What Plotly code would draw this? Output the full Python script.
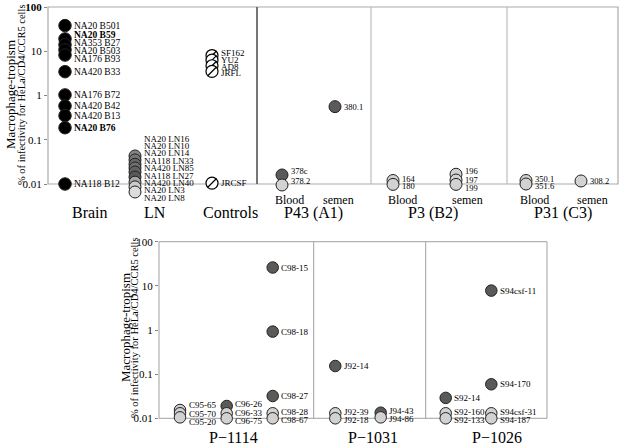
import math
import plotly.graph_objects as go

# ---------------- data ----------------
brain_labels = ["NA20 B501", "NA20 B59", "NA353 B27", "NA20 B503", "NA176 B93",
                "NA420 B33", "NA176 B72", "NA420 B42", "NA420 B13", "NA20 B76", "NA118 B12"]
brain_values = [38, 19, 14, 10.7, 8.2, 3.45, 1.03, 0.58, 0.35, 0.187, 0.01]

ln_labels = ["NA20 LN16", "NA20 LN10", "NA20 LN14", "NA118 LN33", "NA420 LN85",
             "NA118 LN27", "NA420 LN40", "NA20 LN3", "NA20 LN8"]
ln_values = [0.043, 0.035, 0.028, 0.023, 0.0187, 0.0144, 0.011, 0.0086, 0.0066]

control_labels = ["SF162", "YU2", "AD8", "JRFL", "JRCSF"]
control_values = [8.0, 6.3, 4.7, 3.5, 0.0105]

p43_blood_labels = ["378c", "378.2"]
p43_blood_values = [0.016, 0.0095]
p43_semen_labels = ["380.1"]
p43_semen_values = [0.56]
p3_blood_labels = ["164", "180"]
p3_blood_values = [0.012, 0.0098]
p3_semen_labels = ["196", "197", "199"]
p3_semen_values = [0.0166, 0.0123, 0.0098]
p31_blood_labels = ["350.1", "351.6"]
p31_blood_values = [0.012, 0.0100]
p31_semen_labels = ["308.2"]
p31_semen_values = [0.0117]

c95_labels = ["C95-65", "C95-70", "C95-20"]
c95_values = [0.0154, 0.013, 0.0105]
c96_labels = ["C96-26", "C96-33", "C96-75"]
c96_values = [0.019, 0.013, 0.0100]
c98_labels = ["C98-15", "C98-18", "C98-27", "C98-28", "C98-67"]
c98_values = [26, 0.92, 0.032, 0.013, 0.0100]
j92_labels = ["J92-14", "J92-39", "J92-18"]
j92_values = [0.153, 0.013, 0.0100]
j94_labels = ["J94-43", "J94-86"]
j94_values = [0.0134, 0.0105]
s92_labels = ["S92-14", "S92-160", "S92-133"]
s92_values = [0.029, 0.013, 0.0100]
s94_labels = ["S94csf-11", "S94-170", "S94csf-31", "S94-187"]
s94_values = [7.8, 0.059, 0.013, 0.0100]

top_categories = ["Brain", "LN", "Controls", "P43 (A1)", "P3 (B2)", "P31 (C3)"]
bottom_categories = ["P\u22121114", "P\u22121031", "P\u22121026"]
tick_values = [0.01, 0.1, 1, 10, 100]
tick_text_top = ["0.01", "0.1", "1", "10", "<b>100</b>"]
tick_text_bottom = ["0.01", "0.1", "1", "10", "100"]

# ---------------- styles ----------------
BLACK = "#000000"
DARK = "#5a5a5a"
LIGHT = "#d2d2d2"
ln_shades = ["#858585", "#767676", "#676767", "#707070", "#626262",
             "#585858", "#a5a5a5", "#cacaca", "#dcdcdc"]
FONT = "Liberation Serif"
W, H = 624, 446
LO = -2.35  # axis range extends a little below the 0.01 frame line

# panel geometry in pixels (y0 = level of 100, y1 = level of 0.01)
TOP = dict(x0=48, x1=618, y0=7, y1=184)
BOT = dict(x0=159, x1=547, y0=241.7, y1=418.3)


def per_dec(g):
    return (g["y1"] - g["y0"]) / 4


def dom_x(g):
    return [g["x0"] / W, g["x1"] / W]


def dom_y(g):
    bottom = g["y1"] + (-2 - LO) * per_dec(g)
    return [1 - bottom / H, 1 - g["y0"] / H]


def py(v, g):
    return g["y1"] - (math.log10(v) + 2) * per_dec(g)


def spread(pxs, spacing):
    clusters = [[i] for i in range(len(pxs))]

    def center(c):
        return sum(pxs[i] for i in c) / len(c)

    changed = True
    while changed:
        changed = False
        for k in range(len(clusters) - 1):
            A, B = clusters[k], clusters[k + 1]
            a_bot = center(A) + (len(A) - 1) / 2 * spacing
            b_top = center(B) - (len(B) - 1) / 2 * spacing
            if b_top - a_bot < spacing - 1e-9:
                clusters[k:k + 2] = [A + B]
                changed = True
                break
    out = [0] * len(pxs)
    for c in clusters:
        m = center(c)
        for j, i in enumerate(c):
            out[i] = m + (j - (len(c) - 1) / 2) * spacing
    return out


fig = go.Figure()
annotations = []


def add_group(xa, ya, g, xpos, labels, values, fills, size, spacing,
              fsize=9, bold=(), hatched=False, label_dy=0):
    xs = [xpos] * len(values)
    if hatched:
        for i, v in enumerate(values):
            fig.add_trace(go.Scatter(x=[xpos], y=[v], mode="markers", xaxis=xa, yaxis=ya,
                                     cliponaxis=False, hoverinfo="skip",
                                     marker=dict(symbol="circle", size=size, color="white",
                                                 line=dict(color=BLACK, width=1.2))))
            fig.add_trace(go.Scatter(x=[xpos], y=[v], mode="markers", xaxis=xa, yaxis=ya,
                                     cliponaxis=False, hoverinfo="skip",
                                     marker=dict(symbol="line-ne", size=size - 3,
                                                 line=dict(color=BLACK, width=1.3))))
    else:
        fig.add_trace(go.Scatter(x=xs, y=values, mode="markers", xaxis=xa, yaxis=ya,
                                 cliponaxis=False, text=labels,
                                 marker=dict(symbol="circle", size=size, color=fills,
                                             line=dict(color="#222222", width=1))))
    pxs = [py(v, g) for v in values]
    lab = spread(pxs, spacing)
    for t, v, p, lp in zip(labels, values, pxs, lab):
        txt = "<b>%s</b>" % t if t in bold else t
        annotations.append(dict(x=xpos, y=math.log10(v), xref=xa, yref=ya, text=txt,
                                showarrow=False, xanchor="left", yanchor="middle",
                                xshift=size / 2 + 1, yshift=p - (lp + label_dy),
                                font=dict(family=FONT, size=fsize, color=BLACK)))


# ---- top panel groups (x in pixel units from axis start) ----
add_group("x", "y", TOP, 17, brain_labels, brain_values, [BLACK] * len(brain_values), 12.5, 8,
          fsize=9.5, bold=("NA20 B59", "NA20 B76"))
add_group("x", "y", TOP, 87, ln_labels, ln_values, ln_shades, 12, 7.4, fsize=9, label_dy=-5)
add_group("x", "y", TOP, 164, control_labels, control_values, None, 12, 6.8, fsize=9,
          hatched=True)
add_group("x", "y", TOP, 234, p43_blood_labels, p43_blood_values, [DARK, LIGHT], 12, 7.5,
          fsize=8.5, label_dy=-4)
add_group("x", "y", TOP, 287, p43_semen_labels, p43_semen_values, [DARK], 12, 7.5, fsize=8.5)
add_group("x", "y", TOP, 345, p3_blood_labels, p3_blood_values, [LIGHT] * 2, 12, 7, fsize=8.5)
add_group("x", "y", TOP, 408, p3_semen_labels, p3_semen_values, [LIGHT] * 3, 12, 8.5, fsize=8.5)
add_group("x", "y", TOP, 478, p31_blood_labels, p31_blood_values, [LIGHT] * 2, 12, 7, fsize=8.5)
add_group("x", "y", TOP, 533, p31_semen_labels, p31_semen_values, [LIGHT], 12, 7, fsize=8.5)

# ---- bottom panel groups ----
add_group("x2", "y2", BOT, 21, c95_labels, c95_values, [LIGHT] * 3, 11.5, 8.2)
add_group("x2", "y2", BOT, 67.7, c96_labels, c96_values, [DARK, LIGHT, LIGHT], 11.5, 8.2)
add_group("x2", "y2", BOT, 113.7, c98_labels, c98_values, [DARK, DARK, DARK, LIGHT, LIGHT], 11.5, 8.2)
add_group("x2", "y2", BOT, 176.3, j92_labels, j92_values, [DARK, LIGHT, LIGHT], 11.5, 8.2)
add_group("x2", "y2", BOT, 221.7, j94_labels, j94_values, [DARK, LIGHT], 11.5, 8.2)
add_group("x2", "y2", BOT, 286.7, s92_labels, s92_values, [DARK, LIGHT, LIGHT], 11.5, 8.2)
add_group("x2", "y2", BOT, 332.3, s94_labels, s94_values, [DARK, DARK, LIGHT, LIGHT], 11.5, 8.2)

# ---- category labels ----
top_cat_x = [42, 107, 182, 265, 385, 515]
for t, x in zip(top_categories, top_cat_x):
    annotations.append(dict(x=x, xref="x", y=1 - 213 / H, yref="paper", text=t, showarrow=False,
                            xanchor="center", yanchor="middle",
                            font=dict(family=FONT, size=16, color=BLACK)))
sub_x = [241, 290, 354, 419, 486, 544]
sub_t = ["Blood", "semen"] * 3
for t, x in zip(sub_t, sub_x):
    annotations.append(dict(x=x, xref="x", y=1 - 200 / H, yref="paper", text=t, showarrow=False,
                            xanchor="center", yanchor="middle",
                            font=dict(family=FONT, size=12, color=BLACK)))
bot_cat_x = [74, 214, 338]
for t, x in zip(bottom_categories, bot_cat_x):
    annotations.append(dict(x=x, xref="x2", y=1 - 437 / H, yref="paper", text=t, showarrow=False,
                            xanchor="center", yanchor="middle",
                            font=dict(family=FONT, size=16, color=BLACK)))

# ---- y-axis titles ----
for (x1, x2, yc) in [(10, 21, 95), (125, 134, 328)]:
    annotations.append(dict(x=x1 / W, y=1 - yc / H, xref="paper", yref="paper",
                            text="Macrophage-tropism", textangle=-90, showarrow=False,
                            xanchor="center", yanchor="middle",
                            font=dict(family=FONT, size=13, color=BLACK)))
    annotations.append(dict(x=x2 / W, y=1 - yc / H, xref="paper", yref="paper",
                            text="% of infectivity for HeLa/CD4/CCR5 cells", textangle=-90,
                            xanchor="center", yanchor="middle",
                            showarrow=False, font=dict(family=FONT, size=10.5, color=BLACK)))

# ---- frames (top of frame at 100, bottom at 0.01) and dividers ----
shapes = []
for g, col, w in [(TOP, "#aaaaaa", 1.2), (BOT, "#a0a0a0", 1)]:
    shapes.append(dict(type="rect", xref="paper", yref="paper", layer="below",
                       x0=g["x0"] / W, x1=g["x1"] / W, y0=1 - g["y1"] / H, y1=1 - g["y0"] / H,
                       line=dict(color=col, width=w), fillcolor="rgba(0,0,0,0)"))
for x, col, w in [(209, "#555555", 1.6), (323, "#bdbdbd", 1.2), (459, "#bdbdbd", 1.2)]:
    shapes.append(dict(type="line", xref="x", yref="paper", x0=x, x1=x, layer="below",
                       y0=1 - TOP["y1"] / H, y1=1 - TOP["y0"] / H, line=dict(color=col, width=w)))
for x in [154.7, 266.7]:
    shapes.append(dict(type="line", xref="x2", yref="paper", x0=x, x1=x, layer="below",
                       y0=1 - BOT["y1"] / H, y1=1 - BOT["y0"] / H,
                       line=dict(color="#a0a0a0", width=1)))

axis_common = dict(showgrid=False, zeroline=False, showline=False, automargin=False)
fig.update_layout(
    width=W, height=H, margin=dict(l=0, r=0, t=0, b=0, autoexpand=False),
    paper_bgcolor="white", plot_bgcolor="white", showlegend=False,
    xaxis=dict(domain=dom_x(TOP), range=[0, TOP["x1"] - TOP["x0"]], anchor="y",
               showticklabels=False, ticks="", **axis_common),
    yaxis=dict(domain=dom_y(TOP), type="log", range=[LO, 2], anchor="x",
               tickvals=tick_values, ticktext=tick_text_top, ticks="outside", ticklen=3,
               tickcolor="#888888",
               tickfont=dict(family=FONT, size=11, color=BLACK), **axis_common),
    xaxis2=dict(domain=dom_x(BOT), range=[0, BOT["x1"] - BOT["x0"]], anchor="y2",
                showticklabels=False, ticks="", **axis_common),
    yaxis2=dict(domain=dom_y(BOT), type="log", range=[LO, 2], anchor="x2",
                tickvals=tick_values, ticktext=tick_text_bottom, ticks="outside", ticklen=3,
                tickcolor="#888888",
                tickfont=dict(family=FONT, size=11, color=BLACK), **axis_common),
    annotations=annotations, shapes=shapes,
)

fig.write_html("out.html", config={"displayModeBar": False},
               post_script="document.body.style.margin='0';document.body.style.padding='0';")
